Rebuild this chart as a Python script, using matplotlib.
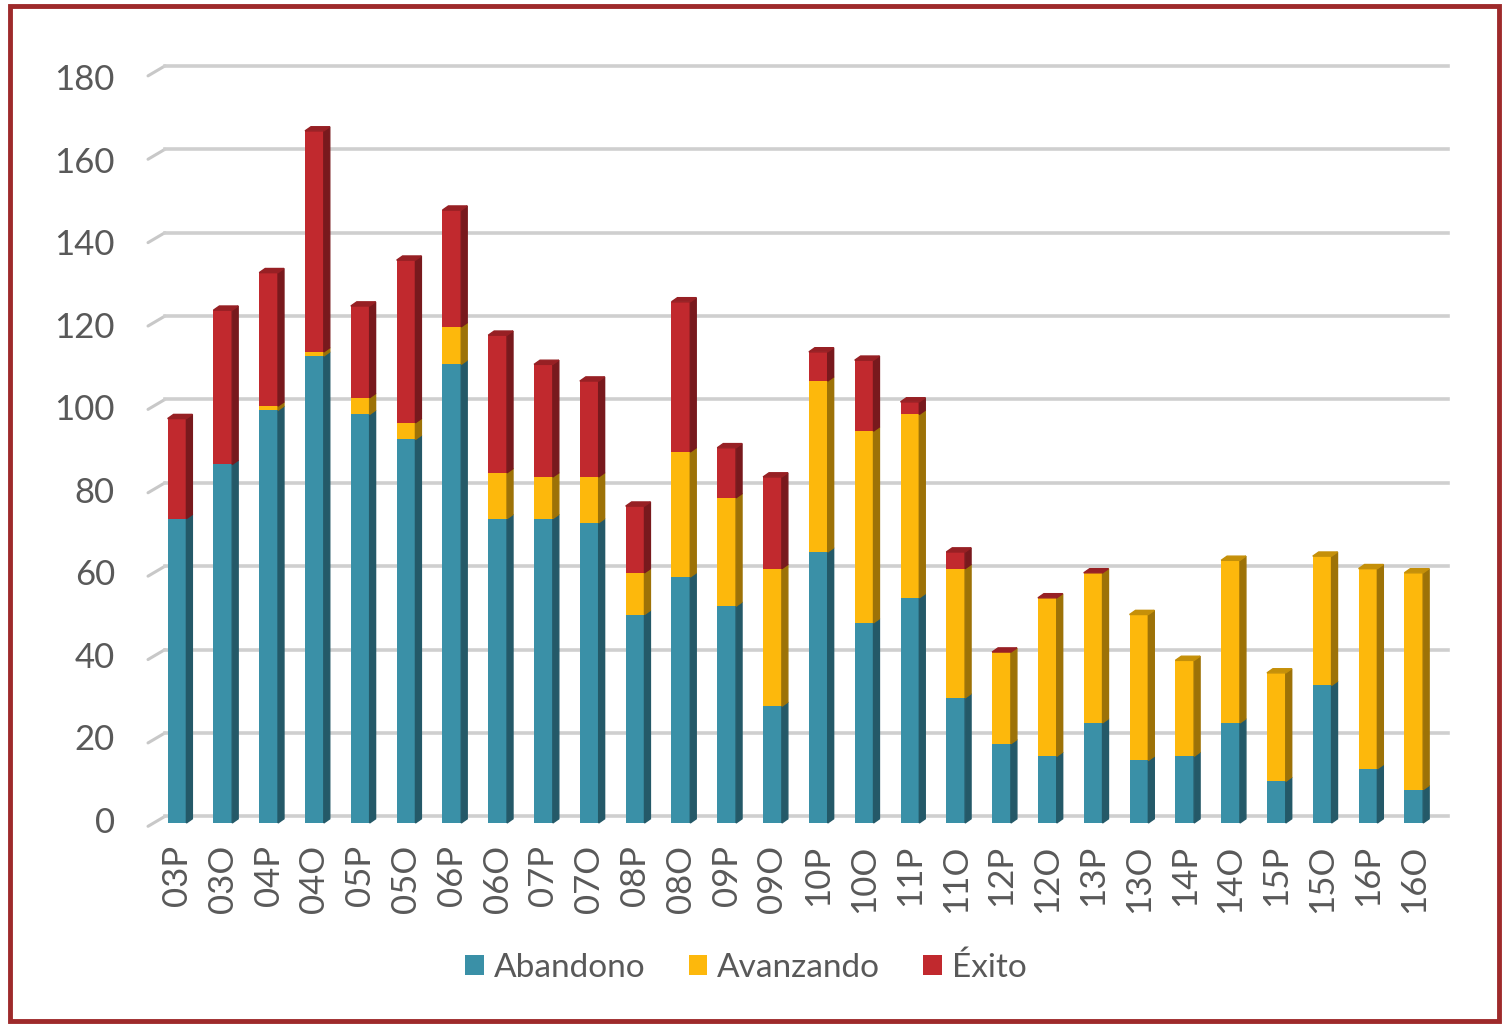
import numpy as np
import matplotlib.pyplot as plt
from matplotlib.patches import Polygon, Rectangle
from matplotlib.colors import to_rgb

plt.rcParams['font.family'] = ['Lato', 'DejaVu Sans']

periodos = ['03P', '03O', '04P', '04O', '05P', '05O', '06P', '06O', '07P', '07O',
            '08P', '08O', '09P', '09O', '10P', '10O', '11P', '11O', '12P', '12O',
            '13P', '13O', '14P', '14O', '15P', '15O', '16P', '16O']
abandono = [73, 86, 99, 112, 98, 92, 110, 73, 73, 72, 50, 59, 52, 28, 65, 48, 54, 30,
            19, 16, 24, 15, 16, 24, 10, 33, 13, 8]
avanzando = [0, 0, 1, 1, 4, 4, 9, 11, 10, 11, 10, 30, 26, 33, 41, 46, 44, 31,
             22, 38, 36, 35, 23, 39, 26, 31, 48, 52]
exito = [24, 37, 32, 53, 22, 39, 28, 33, 27, 23, 16, 36, 12, 22, 7, 17, 3, 4,
         0, 0, 0, np.nan, np.nan, np.nan, np.nan, np.nan, np.nan, np.nan]
series = ['Abandono', 'Avanzando', 'Éxito']
yticks = [0, 20, 40, 60, 80, 100, 120, 140, 160, 180]

colores = ['#3A90A7', '#FDB80C', '#C1292E']
txt = '#595959'


def oscuro(c, f):
    r, g, b = to_rgb(c)
    return (r * f, g * f, b * f)


fig = plt.figure(figsize=(15.07, 10.25), dpi=100)
ax = fig.add_axes([0.0929, 0.1805, 0.8726, 0.7707])
ax.set_xlim(-0.808, 27.9)
ax.set_ylim(-4.08, 185.4)
ax.axis('off')

x = np.arange(len(periodos))
ancho = 0.41
dx, dy = 0.13, 1.0

# rejilla con efecto 3D
for v in yticks:
    ax.plot([-0.633, -0.262], [v - 0.8, v + 1.6], color='#C8C8C8', lw=2.2, zorder=1,
            solid_capstyle='round')
    ax.plot([-0.262, 27.75], [v + 1.6, v + 1.6], color='#CFCFCF', lw=2.6, zorder=1)
    ax.text(-1.354, v * 0.99, str(v), ha='right', va='center', fontsize=25,
            color=txt, clip_on=False)

abajo = np.zeros(len(periodos))
tope_color = [colores[0]] * len(periodos)
tope_y = np.zeros(len(periodos))
for nombre, valores, c in zip(series, [abandono, avanzando, exito], colores):
    vals = np.array(valores, dtype=float)
    h = np.nan_to_num(vals)
    barras = ax.bar(x, h, ancho, bottom=abajo, color=c, zorder=3, label=nombre)
    for i, p in enumerate(barras.patches):
        x0, y0 = p.get_x(), p.get_y()
        w, hh = p.get_width(), p.get_height()
        if hh > 0:
            ax.add_patch(Polygon([(x0 + w, y0), (x0 + w + dx, y0 + dy),
                                  (x0 + w + dx, y0 + hh + dy), (x0 + w, y0 + hh)],
                                 closed=True, color=oscuro(c, 0.62), zorder=3))
        if not np.isnan(vals[i]):
            tope_color[i] = c
            tope_y[i] = y0 + hh
    abajo = abajo + h

for i in range(len(periodos)):
    x0 = x[i] - ancho / 2
    y1 = tope_y[i]
    ax.add_patch(Polygon([(x0, y1), (x0 + dx, y1 + dy), (x0 + ancho + dx, y1 + dy),
                          (x0 + ancho, y1)], closed=True,
                         color=oscuro(tope_color[i], 0.78), zorder=4))

for xi, lab in zip(x, periodos):
    ax.text(xi, -5.2, lab, rotation=90, ha='center', va='top', fontsize=25, color=txt)

fig.legend(loc='center', bbox_to_anchor=(0.495, 0.056), ncol=3, frameon=False,
           fontsize=24, handlelength=0.55, handleheight=0.55, handletextpad=0.3,
           columnspacing=1.3, labelcolor=txt)

fig.add_artist(Rectangle((0.0065, 0.004), 0.988, 0.99, transform=fig.transFigure,
                         fill=False, edgecolor='#9E2A2B', lw=3.5))

fig.savefig('out.png', dpi=100)
